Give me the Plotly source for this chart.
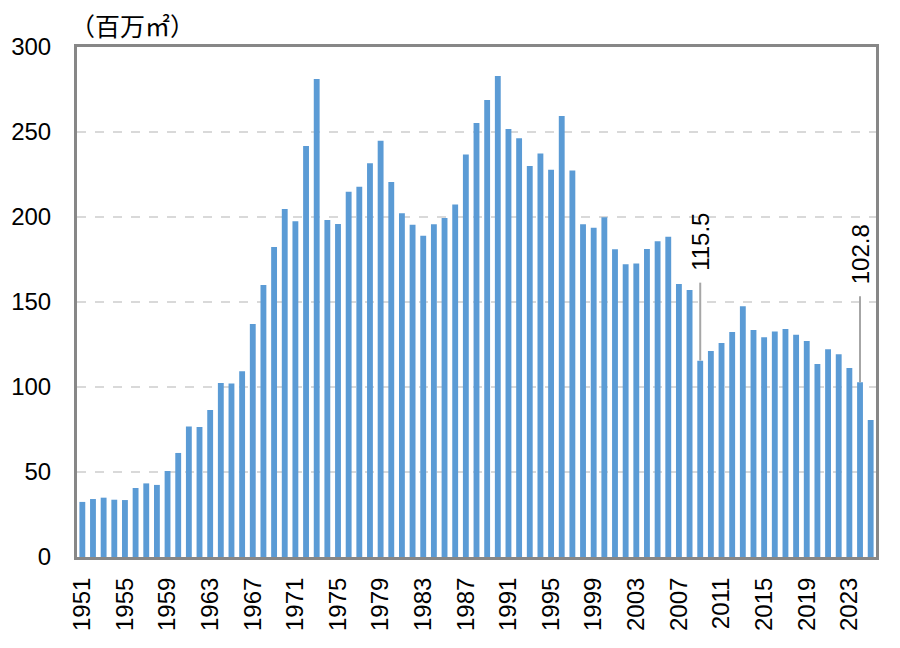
import plotly.graph_objects as go

years = list(range(1951, 2026))
values = [
    32.4, 34.1, 34.9, 33.7, 33.5, 40.6, 43.3, 42.4, 50.6, 61.2,
    76.7, 76.5, 86.5, 102.4, 102.0, 109.2, 137.1, 160.0, 182.4, 204.7,
    197.5, 241.8, 281.2, 198.2, 195.9, 214.9, 217.8, 231.6, 244.9, 220.6,
    202.2, 195.5, 189.0, 195.7, 199.4, 207.3, 236.7, 255.3, 268.8, 282.9,
    251.8, 246.3, 230.0, 237.4, 227.8, 259.4, 227.4, 195.7, 193.7, 199.8,
    181.0, 172.2, 172.6, 181.2, 185.7, 188.4, 160.6, 157.1, 115.5, 121.2,
    125.9, 132.4, 147.5, 133.5, 129.2, 132.7, 134.1, 130.8, 127.1, 113.5,
    122.2, 119.2, 111.2, 102.8, 80.6,
]
tick_years = list(range(1951, 2024, 4))
y_ticks = [0, 50, 100, 150, 200, 250, 300]
labelled_years = [2009, 2024]
unit_label = "（百万㎡）"

FONT = "Liberation Sans, Arial, sans-serif"
BAR_COLOR = "#5b9bd5"
FRAME = "#878787"

# page body offset of 8px is compensated in the margins/size
W, H = 892, 640
L, T, R, B = 69, 39, 24, 91

fig = go.Figure(
    go.Bar(x=years, y=values, marker=dict(color=BAR_COLOR, line=dict(width=0)),
           hoverinfo="x+y")
)

leader_len = {2009: 78, 2024: 86}
gap = 10
for yr in labelled_years:
    v = values[years.index(yr)]
    fig.add_shape(type="line", xref="x", yref="y", x0=yr, x1=yr,
                  ysizemode="pixel", yanchor=v, y0=0, y1=leader_len[yr],
                  line=dict(color="#a6a6a6", width=2))
    fig.add_annotation(x=yr, y=v, xref="x", yref="y", text=f"{v:.1f}",
                       showarrow=False, textangle=-90, yanchor="bottom",
                       xanchor="center", yshift=leader_len[yr] + gap,
                       font=dict(family=FONT, size=24, color="#000000"))

plot_w = W - L - R
plot_h = H - T - B
fig.add_annotation(x=(124 - L) / plot_w, y=1 + (T - 17) / plot_h,
                   xref="paper", yref="paper", text=unit_label,
                   showarrow=False, xanchor="center", yanchor="middle",
                   font=dict(family="Noto Sans CJK JP", size=25, color="#000000"))

fig.update_layout(
    width=W, height=H,
    margin=dict(l=L, r=R, t=T, b=B, autoexpand=False),
    paper_bgcolor="white", plot_bgcolor="white",
    bargap=0.45, showlegend=False,
    font=dict(family=FONT, size=24, color="#000000"),
)
fig.update_xaxes(
    range=[1950.5, 2025.5], tickmode="array", tickvals=tick_years,
    ticktext=[str(t) for t in tick_years], tickangle=-90, automargin=False,
    showgrid=False, zeroline=False, showline=True, mirror=True,
    linecolor=FRAME, linewidth=3, ticks="", ticklabelstandoff=8,
    tickfont=dict(family=FONT, size=24, color="#000000"),
)
fig.update_yaxes(
    range=[0, 300], tickmode="array", tickvals=y_ticks, automargin=False,
    showgrid=True, gridcolor="#d9d9d9", gridwidth=1.5, griddash="dash",
    zeroline=False, showline=True, mirror=True, linecolor=FRAME, linewidth=3,
    ticks="", ticklabelstandoff=18,
    tickfont=dict(family=FONT, size=24, color="#000000"),
)

fig.write_html("out.html")
